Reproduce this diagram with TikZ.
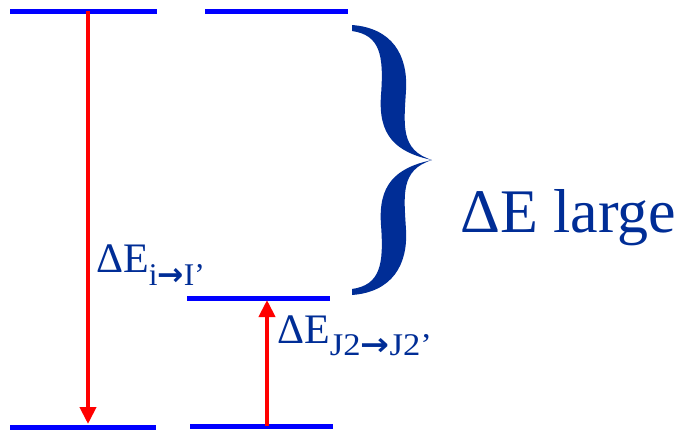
\documentclass[tikz,border=0pt]{standalone}
\usepackage{fontspec}
\setmainfont{Liberation Serif}
\newfontfamily\arrowfont{DejaVu Sans}
\usetikzlibrary{arrows.meta}
\definecolor{lvlblue}{RGB}{0,0,255}
\definecolor{txtblue}{RGB}{0,45,150}
\definecolor{arrred}{RGB}{255,0,0}
\tikzset{
  level/.style={draw=lvlblue, line width=5pt},
  transarrow/.style={draw=arrred, line width=4pt, -{Triangle[length=17pt,width=16pt]}},
  lbl/.style={text=txtblue, inner sep=0pt, anchor=base west},
}
\newcommand{\subarrow}{{\arrowfont\bfseries →}}
\begin{document}
\begin{tikzpicture}[x=1pt,y=-1pt]
\useasboundingbox (0,0) rectangle (682,432);
% levels
\coordinate (tl1) at (10,11);  \coordinate (tl2) at (157,11);
\coordinate (tr1) at (205,11); \coordinate (tr2) at (348,11);
\coordinate (mr1) at (187,298);\coordinate (mr2) at (330,298);
\coordinate (bl1) at (10,427); \coordinate (bl2) at (156,427);
\coordinate (br1) at (190,426);\coordinate (br2) at (333,426);
\draw[level] (tl1) -- (tl2);
\draw[level] (tr1) -- (tr2);
\draw[level] (mr1) -- (mr2);
\draw[level] (bl1) -- (bl2);
\draw[level] (br1) -- (br2);
% arrows
\coordinate (a1s) at (88,11);  \coordinate (a1e) at (88,424);
\coordinate (a2s) at (267,426);\coordinate (a2e) at (267,300);
\draw[transarrow] (a1s) -- (a1e);
\draw[transarrow] (a2s) -- (a2e);
% brace
\fill[txtblue] (352,25) .. controls (392,28) and (408,55) .. (406,90)
  .. controls (404,125) and (400,150) .. (432,160)
  .. controls (400,170) and (404,195) .. (406,230)
  .. controls (408,265) and (392,292) .. (352,295)
  -- (352,289) .. controls (380,285) and (384,265) .. (381,225)
  .. controls (378,185) and (395,168) .. (432,160)
  .. controls (395,152) and (378,135) .. (381,95)
  .. controls (384,55) and (380,35) .. (352,31) -- cycle;
% labels
\node[lbl, font=\fontsize{42}{42}\selectfont] (l1) at (96,272)
  {ΔE\raisebox{-13pt}{\resizebox{56pt}{21pt}{i\subarrow I’}}};
\node[lbl, font=\fontsize{42}{42}\selectfont] (l2) at (277,343)
  {ΔE\raisebox{-12pt}{\resizebox{102pt}{21pt}{J2\subarrow J2’}}};
\node[lbl, font=\fontsize{62}{62}\selectfont] (l3) at (460,232) {ΔE large};
\end{tikzpicture}
\end{document}
